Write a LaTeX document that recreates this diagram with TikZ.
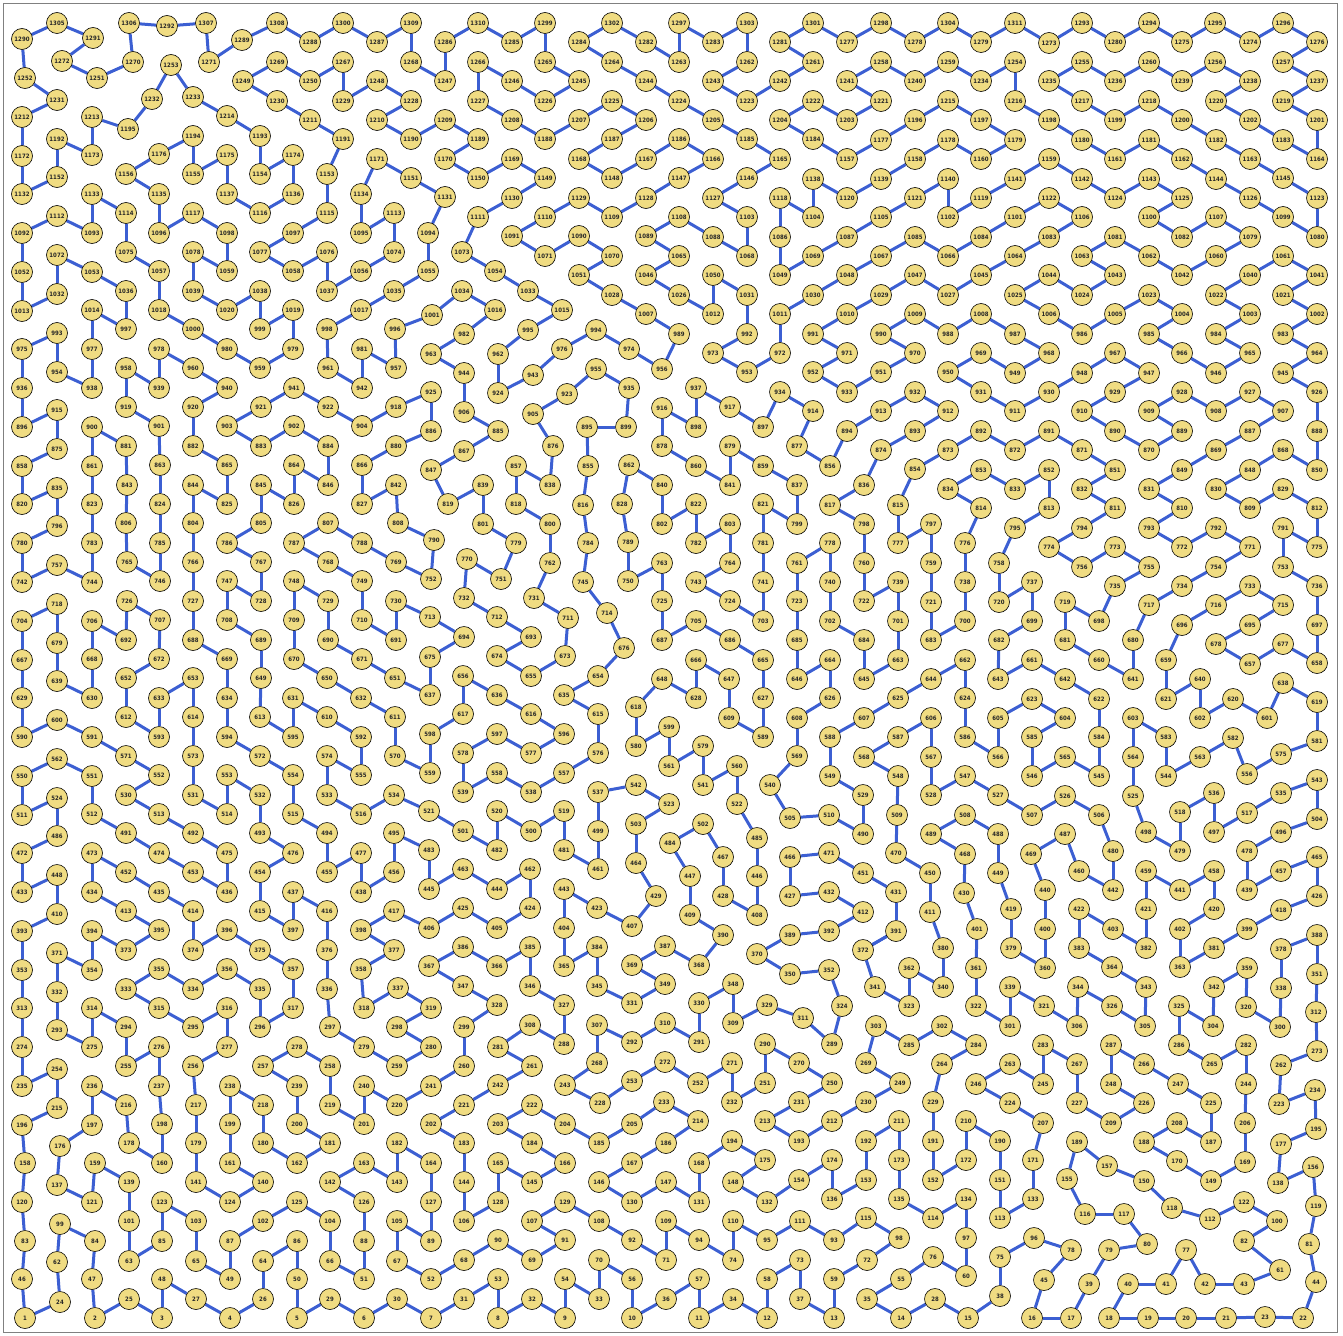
\documentclass[tikz,border=0pt]{standalone}
\usepackage{fontspec}
\newfontfamily\labfont{DejaVu Sans}[FakeStretch=0.9]
\usetikzlibrary{backgrounds}
\definecolor{vfill}{RGB}{240,220,130}
\definecolor{ecol}{RGB}{60,95,210}
\tikzset{vtx/.style={circle,draw=black,line width=0.6pt,fill=vfill,minimum size=21pt,inner sep=0pt,font=\labfont\bfseries\fontsize{6}{6}\selectfont,text=black!85},
edgeline/.style={ecol,line width=3pt}}
\begin{document}
\begin{tikzpicture}[x=1pt,y=-1pt]
\useasboundingbox (0,0) rectangle (1343,1335);
\draw[gray,line width=1pt] (3,4) rectangle (1337,1332);
\foreach \n/\x/\y in {1/25/1318,2/95/1318,3/162/1318,4/230/1318,5/297/1318,6/364/1318,7/431/1318,8/498/1318,9/565/1318,10/632/1318,
11/699/1318,12/767/1318,13/834/1318,14/901/1318,15/968/1318,16/1032/1318,17/1071/1318,18/1109/1318,19/1148/1318,20/1186/1318,
21/1226/1318,22/1303/1318,23/1265/1317,24/60/1302,25/129/1299,26/263/1299,27/196/1299,28/935/1299,29/330/1299,30/397/1299,
31/464/1299,32/532/1299,33/599/1299,34/733/1299,35/867/1299,36/666/1299,37/800/1299,38/1000/1296,39/1089/1284,40/1128/1284,
41/1166/1284,42/1205/1284,43/1244/1284,44/1316/1282,45/1044/1280,46/22/1279,47/92/1279,48/162/1279,49/230/1279,50/297/1279,
51/364/1279,52/431/1279,53/498/1279,54/565/1279,55/901/1279,56/632/1279,57/699/1279,58/767/1279,59/834/1279,60/966/1276,
61/1280/1270,62/57/1262,63/129/1261,64/263/1261,65/196/1261,66/330/1261,67/397/1261,68/464/1260,69/532/1260,70/599/1260,
71/666/1260,72/867/1260,73/800/1260,74/733/1260,75/1000/1257,76/933/1257,77/1186/1250,78/1071/1250,79/1109/1250,80/1147/1244,
81/1309/1244,82/1244/1241,83/25/1241,84/95/1241,85/162/1241,86/297/1241,87/230/1241,88/364/1241,89/431/1241,90/498/1240,
91/565/1240,92/632/1240,93/834/1240,94/699/1240,95/767/1240,96/1034/1238,97/966/1238,98/899/1238,99/60/1224,100/1277/1221,
101/129/1221,102/263/1221,103/196/1221,104/330/1221,105/397/1221,106/464/1221,107/532/1221,108/599/1221,109/666/1221,110/733/1221,
111/800/1221,112/1210/1219,113/1000/1218,114/933/1218,115/866/1218,116/1085/1214,117/1124/1214,118/1172/1208,119/1316/1206,120/22/1202,
121/92/1202,122/1244/1202,123/162/1202,124/230/1202,125/297/1202,126/364/1202,127/431/1202,128/498/1202,129/565/1202,130/632/1202,
131/699/1202,132/767/1202,133/1033/1199,134/966/1199,135/899/1199,136/832/1199,137/57/1185,138/1278/1183,139/129/1182,140/263/1182,
141/196/1182,142/330/1182,143/397/1182,144/464/1182,145/532/1182,146/599/1182,147/666/1182,148/733/1182,149/1211/1181,150/1144/1181,
151/1000/1180,152/933/1180,153/866/1180,154/799/1180,155/1067/1179,156/1313/1167,157/1107/1166,158/25/1163,159/95/1163,160/162/1163,
161/230/1163,162/297/1163,163/364/1163,164/431/1163,165/498/1163,166/565/1163,167/632/1163,168/699/1163,169/1245/1162,170/1177/1161,
171/1033/1160,172/966/1160,173/899/1160,174/832/1160,175/765/1160,176/60/1146,177/1281/1144,178/129/1143,179/196/1143,180/263/1143,
181/330/1143,182/397/1143,183/464/1143,184/532/1143,185/599/1143,186/666/1143,187/1211/1142,188/1144/1142,189/1077/1142,190/1000/1141,
191/933/1141,192/866/1141,193/799/1141,194/732/1141,195/1316/1129,196/22/1125,197/92/1125,198/162/1124,199/230/1124,200/297/1124,
201/364/1124,202/431/1124,203/498/1124,204/565/1124,205/632/1124,206/1245/1123,207/1043/1123,208/1177/1123,209/1111/1123,210/966/1121,
211/899/1121,212/832/1121,213/765/1121,214/698/1121,215/57/1108,216/126/1105,217/196/1105,218/263/1105,219/330/1105,220/397/1105,
221/464/1105,222/532/1105,223/1279/1104,224/1010/1103,225/1211/1103,226/1144/1103,227/1077/1103,228/600/1103,229/933/1102,230/866/1102,
231/799/1102,232/732/1102,233/664/1102,234/1315/1090,235/22/1086,236/92/1086,237/159/1086,238/230/1086,239/297/1086,240/364/1086,
241/431/1086,242/498/1085,243/565/1085,244/1246/1084,245/1043/1084,246/976/1084,247/1178/1084,248/1111/1084,249/900/1083,250/832/1083,
251/765/1083,252/698/1083,253/632/1081,254/57/1069,255/126/1066,256/193/1066,257/263/1066,258/330/1066,259/397/1066,260/464/1066,
261/532/1066,262/1281/1065,263/1010/1064,264/942/1064,265/1212/1064,266/1144/1064,267/1077/1064,268/597/1063,269/866/1063,270/799/1063,
271/732/1063,272/665/1062,273/1317/1051,274/22/1047,275/92/1047,276/159/1047,277/227/1047,278/297/1047,279/364/1047,280/431/1047,
281/498/1047,282/1246/1045,283/1043/1045,284/976/1045,285/909/1045,286/1179/1045,287/1111/1045,288/564/1044,289/832/1044,290/765/1044,
291/699/1042,292/632/1042,293/57/1030,294/126/1027,295/193/1027,296/260/1027,297/330/1027,298/397/1027,299/464/1027,300/1280/1027,
301/1010/1026,302/942/1026,303/876/1026,304/1213/1026,305/1145/1026,306/1077/1026,307/597/1025,308/530/1025,309/733/1023,310/665/1023,
311/803/1018,312/1316/1012,313/22/1008,314/92/1008,315/159/1008,316/227/1008,317/293/1008,318/364/1008,319/431/1008,320/1246/1007,
321/1044/1006,322/976/1006,323/909/1006,324/842/1006,325/1179/1006,326/1112/1006,327/564/1005,328/497/1005,329/767/1005,330/699/1003,
331/632/1003,332/57/992,333/126/989,334/193/989,335/260/989,336/327/989,337/398/988,338/1281/988,339/1010/987,340/943/987,
341/875/987,342/1214/987,343/1146/987,344/1078/987,345/597/986,346/530/986,347/463/986,348/733/984,349/665/984,350/790/974,
351/1317/974,352/829/970,353/22/970,354/92/970,355/159/969,356/227/969,357/293/969,358/361/969,359/1247/968,360/1045/968,
361/976/968,362/909/968,363/1180/967,364/1112/967,365/564/966,366/497/966,367/429/966,368/699/965,369/632/965,370/757/954,
371/57/953,372/863/950,373/126/950,374/193/950,375/260/950,376/327/950,377/394/950,378/1281/949,379/1011/948,380/943/948,
381/1214/948,382/1146/948,383/1079/948,384/597/947,385/530/947,386/463/947,387/665/946,388/1317/935,389/790/935,390/723/935,
391/896/931,392/829/931,393/22/931,394/92/931,395/159/930,396/227/930,397/293/930,398/361/930,399/1247/929,400/1045/929,
401/977/929,402/1180/929,403/1113/929,404/564/928,405/497/928,406/429/928,407/632/926,408/757/915,409/690/915,410/57/914,
411/930/912,412/863/912,413/126/911,414/193/911,415/260/911,416/327/911,417/394/911,418/1281/910,419/1011/909,420/1214/909,
421/1146/909,422/1079/909,423/597/908,424/530/908,425/463/908,426/1317/896,427/790/896,428/723/896,429/656/896,430/964/893,
431/896/892,432/829/892,433/22/892,434/92/892,435/159/892,436/227/892,437/293/892,438/361/892,439/1247/890,440/1045/890,
441/1180/890,442/1113/890,443/564/889,444/497/889,445/429/889,446/757/876,447/690/876,448/57/875,449/998/873,450/930/873,
451/863/873,452/126/872,453/193/872,454/260/872,455/327/872,456/394/872,457/1281/871,458/1214/871,459/1146/871,460/1079/871,
461/598/869,462/530/869,463/463/869,464/636/863,465/1317/857,466/790/857,467/723/857,468/965/854,469/1031/854,470/896/853,
471/829/853,472/22/853,473/92/853,474/159/853,475/227/853,476/293/853,477/361/853,478/1247/851,479/1180/851,480/1113/851,
481/564/850,482/497/850,483/429/850,484/670/843,485/757/838,486/57/836,487/1065/834,488/998/834,489/931/834,490/863/834,
491/126/833,492/193/833,493/260/833,494/327/833,495/394/833,496/1281/832,497/1214/832,498/1146/832,499/598/831,500/531/831,
501/463/831,502/703/824,503/636/824,504/1317/819,505/790/818,506/1099/815,507/1032/815,508/965/815,509/897/815,510/829/815,
511/22/815,512/92/814,513/159/814,514/227/814,515/293/814,516/361/814,517/1247/813,518/1180/812,519/564/811,520/497/811,
521/429/811,522/737/804,523/669/804,524/57/798,525/1133/796,526/1065/796,527/998/795,528/931/795,529/863/795,530/126/795,
531/193/795,532/260/795,533/327/795,534/394/795,535/1281/793,536/1214/793,537/598/792,538/531/792,539/463/792,540/770/785,
541/703/785,542/636/785,543/1317/780,544/1166/776,545/1099/776,546/1032/776,547/965/776,548/898/776,549/830/776,550/22/776,
551/92/776,552/159/775,553/227/775,554/293/775,555/361/775,556/1247/774,557/564/773,558/497/773,559/430/773,560/737/766,
561/669/766,562/57/759,563/1200/757,564/1133/757,565/1065/757,566/998/757,567/931/757,568/864/757,569/797/756,570/395/756,
571/126/756,572/260/756,573/193/756,574/327/756,575/1281/754,576/598/753,577/531/753,578/463/753,579/703/746,580/636/746,
581/1317/741,582/1233/738,583/1166/737,584/1099/737,585/1032/737,586/965/737,587/898/737,588/830/737,589/763/737,590/22/737,
591/92/737,592/361/737,593/159/737,594/227/737,595/293/737,596/564/734,597/497/734,598/430/734,599/669/727,600/57/720,
601/1267/718,602/1200/718,603/1133/718,604/1065/718,605/998/718,606/931/718,607/864/718,608/797/718,609/729/718,610/327/717,
611/395/717,612/126/717,613/260/717,614/193/717,615/598/714,616/531/714,617/463/714,618/636/707,619/1317/702,620/1233/699,
621/1166/699,622/1099/699,623/1032/699,624/965/698,625/898/698,626/830/698,627/763/698,628/696/698,629/22/698,630/92/698,
631/293/698,632/361/698,633/159/698,634/227/698,635/564/695,636/497/695,637/430/695,638/1283/683,639/57/681,640/1200/679,
641/1133/679,642/1065/679,643/998/679,644/931/679,645/864/679,646/797/679,647/729/679,648/662/679,649/261/678,650/327/678,
651/395/678,652/126/678,653/193/678,654/598/676,655/531/676,656/463/676,657/1250/664,658/1317/663,659/1166/660,660/1099/660,
661/1032/660,662/965/660,663/898/660,664/830/660,665/763/660,666/696/660,667/22/660,668/92/659,669/227/659,670/294/659,
671/362/659,672/159/659,673/565/656,674/497/656,675/430/657,676/624/648,677/1283/644,678/1216/644,679/57/643,680/1133/640,
681/1065/640,682/999/640,683/931/640,684/864/640,685/797/640,686/730/640,687/662/640,688/193/640,689/261/640,690/328/640,
691/396/640,692/126/640,693/531/637,694/464/637,695/1250/625,696/1182/625,697/1317/625,698/1099/621,699/1032/621,700/965/621,
701/898/621,702/830/621,703/763/621,704/22/621,705/696/621,706/92/621,707/160/620,708/227/620,709/294/620,710/362/620,
711/568/618,712/497/617,713/430/617,714/607/613,715/1283/605,716/1216/605,717/1149/605,718/57/604,719/1065/602,720/999/602,
721/931/602,722/864/601,723/797/601,724/730/601,725/662/601,726/127/601,727/193/601,728/261/601,729/328/601,730/396/601,
731/534/598,732/464/598,733/1250/586,734/1182/586,735/1115/586,736/1317/586,737/1032/582,738/965/582,739/898/582,740/830/582,
741/763/582,742/22/582,743/696/582,744/92/582,745/583/582,746/160/581,747/227/581,748/294/581,749/362/581,750/628/581,
751/501/579,752/431/579,753/1283/567,754/1216/567,755/1149/567,756/1082/567,757/57/565,758/999/563,759/931/563,760/864/563,
761/797/563,762/550/563,763/662/563,764/730/563,765/127/562,766/193/562,767/261/562,768/328/562,769/396/562,770/467/559,
771/1250/547,772/1182/547,773/1115/547,774/1049/547,775/1317/547,776/965/543,777/898/543,778/830/543,779/516/543,780/22/543,
781/763/543,782/696/543,783/92/543,784/588/543,785/160/543,786/227/543,787/294/543,788/362/543,789/628/542,790/434/540,
791/1283/528,792/1216/528,793/1149/528,794/1082/528,795/1015/528,796/57/526,797/931/524,798/864/524,799/797/524,800/550/524,
801/483/524,802/662/524,803/730/524,804/193/523,805/261/523,806/126/523,807/328/523,808/398/523,809/1250/508,810/1182/508,
811/1115/508,812/1317/508,813/1049/508,814/981/508,815/898/505,816/583/505,817/830/505,818/516/504,819/448/504,820/22/504,
821/763/504,822/696/504,823/92/504,824/160/504,825/227/504,826/294/504,827/362/504,828/622/504,829/1283/489,830/1216/489,
831/1149/489,832/1082/489,833/1015/489,834/948/489,835/57/488,836/864/485,837/797/485,838/550/485,839/483/485,840/662/485,
841/730/485,842/396/485,843/127/485,844/193/485,845/261/485,846/328/485,847/431/470,848/1250/470,849/1182/470,850/1317/470,
851/1115/470,852/1049/470,853/981/470,854/915/469,855/588/466,856/830/466,857/516/466,858/22/466,859/763/466,860/696/466,
861/92/466,862/629/465,863/160/465,864/294/465,865/227/465,866/362/465,867/464/451,868/1283/450,869/1216/450,870/1149/450,
871/1082/450,872/1015/450,873/948/450,874/881/450,875/57/449,876/553/446,877/797/446,878/662/446,879/730/446,880/396/446,
881/126/446,882/193/446,883/261/446,884/328/446,885/498/431,886/431/431,887/1250/431,888/1317/431,889/1182/431,890/1115/431,
891/1049/431,892/981/431,893/915/431,894/847/431,895/587/427,896/22/427,897/763/427,898/696/427,899/626/427,900/92/427,
901/159/426,902/294/426,903/227/426,904/362/426,905/533/414,906/464/412,907/1283/411,908/1216/411,909/1149/411,910/1082/411,
911/1015/411,912/948/411,913/881/411,914/813/411,915/57/410,916/662/408,917/730/407,918/396/407,919/126/407,920/193/407,
921/261/407,922/328/407,923/567/394,924/498/393,925/431/392,926/1317/392,927/1250/392,928/1182/392,929/1115/392,930/1049/392,
931/981/392,932/915/392,933/847/392,934/780/392,935/629/388,936/22/388,937/696/388,938/92/388,939/159/388,940/227/388,
941/294/388,942/362/388,943/533/375,944/464/373,945/1283/373,946/1216/373,947/1149/373,948/1082/373,949/1015/373,950/948/372,
951/881/372,952/813/372,953/747/372,954/57/372,955/596/369,956/662/369,957/396/368,958/126/368,959/260/368,960/193/368,
961/328/368,962/498/354,963/431/354,964/1317/353,965/1250/353,966/1182/353,967/1115/353,968/1049/353,969/981/353,970/915/353,
971/847/353,972/780/353,973/713/353,974/629/349,975/22/349,976/562/349,977/92/349,978/159/349,979/293/349,980/227/349,
981/362/349,982/464/334,983/1283/334,984/1216/334,985/1149/334,986/1082/334,987/1015/334,988/948/334,989/679/334,990/881/334,
991/813/334,992/747/334,993/57/333,994/596/330,995/528/330,996/395/329,997/126/329,998/327/329,999/260/329,1000/193/329,
1001/432/315,1002/1317/314,1003/1250/314,1004/1182/314,1005/1115/314,1006/1049/314,1007/646/314,1008/981/314,1009/915/314,1010/847/314,
1011/780/314,1012/713/314,1013/22/311,1014/92/310,1015/562/310,1016/495/310,1017/361/310,1018/159/310,1019/293/310,1020/227/310,
1021/1283/295,1022/1216/295,1023/1149/295,1024/1082/295,1025/1015/295,1026/679/295,1027/948/295,1028/612/295,1029/881/295,1030/813/295,
1031/747/295,1032/57/294,1033/528/291,1034/462/291,1035/394/291,1036/126/291,1037/327/291,1038/260/291,1039/193/291,1040/1250/275,
1041/1317/275,1042/1182/275,1043/1115/275,1044/1049/275,1045/981/275,1046/646/275,1047/915/275,1048/847/275,1049/780/275,1050/713/275,
1051/579/275,1052/22/272,1053/92/272,1054/495/271,1055/428/271,1056/361/271,1057/159/271,1058/293/271,1059/227/271,1060/1216/256,
1061/1283/256,1062/1149/256,1063/1082/256,1064/1015/256,1065/679/256,1066/948/256,1067/881/256,1068/747/256,1069/813/256,1070/612/256,
1071/545/256,1072/57/255,1073/462/252,1074/394/252,1075/126/252,1076/327/252,1077/260/252,1078/193/252,1079/1250/237,1080/1317/237,
1081/1115/237,1082/1182/237,1083/1049/237,1084/981/237,1085/915/237,1086/780/237,1087/847/237,1088/713/237,1089/646/236,1090/579/236,
1091/512/236,1092/22/233,1093/92/233,1094/428/233,1095/361/233,1096/159/233,1097/293/233,1098/227/233,1099/1283/217,1100/1149/217,
1101/1015/217,1102/948/217,1103/747/217,1104/813/217,1105/881/217,1106/1082/217,1107/1216/217,1108/679/217,1109/612/217,1110/545/217,
1111/478/217,1112/57/216,1113/394/213,1114/126/213,1115/327/213,1116/260/213,1117/193/213,1118/780/198,1119/981/198,1120/847/198,
1121/915/198,1122/1049/198,1123/1317/198,1124/1115/198,1125/1182/198,1126/1250/198,1127/713/198,1128/646/198,1129/579/198,1130/512/198,
1131/445/197,1132/22/194,1133/92/194,1134/361/194,1135/159/194,1136/293/194,1137/227/194,1138/813/179,1139/881/179,1140/948/179,
1141/1015/179,1142/1082/179,1143/1149/179,1144/1216/179,1145/1283/178,1146/747/178,1147/679/178,1148/612/178,1149/545/178,1150/478/178,
1151/411/178,1152/57/177,1153/327/174,1154/260/174,1155/193/174,1156/126/174,1157/847/159,1158/915/159,1159/1049/159,1160/981/159,
1161/1115/159,1162/1182/159,1163/1250/159,1164/1317/159,1165/780/159,1166/713/159,1167/646/159,1168/579/159,1169/512/159,1170/445/159,
1171/377/159,1172/22/156,1173/92/155,1174/293/155,1175/227/155,1176/159/154,1177/881/140,1178/948/140,1179/1015/140,1180/1082/140,
1181/1149/140,1182/1216/140,1183/1283/140,1184/813/139,1185/747/139,1186/679/139,1187/612/139,1188/545/139,1189/478/139,1190/411/139,
1191/343/139,1192/57/139,1193/260/136,1194/193/136,1195/128/129,1196/915/120,1197/981/120,1198/1049/120,1199/1115/120,1200/1182/120,
1201/1317/120,1202/1250/120,1203/847/120,1204/780/120,1205/713/120,1206/646/120,1207/579/120,1208/512/120,1209/445/120,1210/377/120,
1211/310/120,1212/22/117,1213/92/117,1214/227/116,1215/948/101,1216/1015/101,1217/1082/101,1218/1149/101,1219/1283/101,1220/1216/101,
1221/881/101,1222/813/101,1223/747/101,1224/679/101,1225/612/101,1226/545/101,1227/478/101,1228/411/101,1229/343/101,1230/277/101,
1231/57/100,1232/152/99,1233/193/97,1234/981/81,1235/1049/81,1236/1115/81,1237/1317/81,1238/1250/81,1239/1182/81,1240/915/81,
1241/847/81,1242/780/81,1243/713/81,1244/646/81,1245/579/81,1246/512/81,1247/445/81,1248/377/81,1249/243/81,1250/310/81,
1251/97/78,1252/25/78,1253/171/65,1254/1015/62,1255/1082/62,1256/1215/62,1257/1283/62,1258/881/62,1259/948/62,1260/1149/62,
1261/813/62,1262/747/62,1263/679/62,1264/612/62,1265/545/62,1266/478/62,1267/343/62,1268/411/62,1269/277/62,1270/133/62,
1271/209/62,1272/62/61,1273/1049/43,1274/1250/42,1275/1182/42,1276/1317/42,1277/847/42,1278/915/42,1279/981/42,1280/1115/42,
1281/780/42,1282/646/42,1283/713/42,1284/579/42,1285/512/42,1286/445/42,1287/377/42,1288/310/42,1289/242/40,1290/22/39,
1291/93/38,1292/167/26,1293/1082/23,1294/1149/23,1295/1215/23,1296/1283/23,1297/679/23,1298/881/23,1299/545/23,1300/343/23,
1301/813/23,1302/612/23,1303/747/23,1304/948/23,1305/57/23,1306/129/23,1307/206/23,1308/277/23,1309/411/23,1310/478/23,
1311/1015/23}
  \node[vtx] (n\n) at (\x,\y) {\n};
\begin{pgfonlayer}{background}
\foreach \a/\b in {1290/1305,1305/1291,1291/1272,1272/1251,1251/1270,1270/1306,1306/1292,1292/1307,1307/1271,1271/1289,1289/1308,1308/1288,1288/1300,1300/1287,1287/1309,1309/1268,1268/1247,1247/1286,
1290/1252,1252/1231,1231/1212,1212/1172,1172/1132,1132/1152,1152/1192,1192/1173,1173/1213,1213/1195,1195/1232,1232/1253,1253/1233,1233/1214,1214/1193,1193/1154,1154/1174,1174/1136,1136/1116,1116/1137,1137/1175,1175/1155,1155/1194,1194/1176,1176/1156,1156/1135,1135/1096,1096/1117,1117/1098,1098/1059,1059/1078,1078/1039,1039/1020,1020/1038,1038/999,999/1019,1019/979,
1249/1269,1269/1250,1250/1267,1267/1229,1229/1248,1248/1228,1228/1210,1210/1190,1190/1209,1209/1189,
1249/1230,1230/1211,1211/1191,1191/1153,1153/1115,1115/1097,1097/1077,1077/1058,1058/1076,1076/1037,1037/1056,1056/1074,1074/1113,1113/1095,1095/1134,1134/1171,1171/1151,1151/1131,1131/1094,1094/1055,1055/1035,1035/1017,1017/998,998/961,
1112/1092,1112/1093,1093/1133,1133/1114,1114/1075,1075/1057,1057/1018,1018/1000,1000/980,
1092/1052,1052/1013,1013/1032,1032/1072,1072/1053,1053/1036,1036/997,997/1014,1014/977,
993/975,993/954,1001/996,1001/1034,
1286/1310,1310/1285,1285/1299,1299/1265,1265/1245,1245/1226,1226/1246,1246/1266,1266/1227,1227/1208,1208/1188,1188/1207,1207/1225,1225/1206,1206/1187,1187/1168,1168/1148,1148/1167,1167/1186,1186/1166,1166/1147,1147/1128,1128/1109,1109/1129,1129/1110,1110/1091,1091/1071,1071/1090,1090/1070,1070/1051,1051/1028,1028/1007,1007/989,989/956,
1302/1284,1284/1264,1264/1244,1244/1224,1224/1205,1205/1185,1185/1165,1165/1146,1146/1127,1127/1103,1103/1068,1068/1088,1088/1108,1108/1089,1089/1065,1065/1046,1046/1026,1026/1012,1012/1050,1050/1031,1031/992,
1302/1282,1282/1263,1263/1297,1297/1283,1283/1303,1303/1262,1262/1243,1243/1223,1223/1242,1242/1261,1261/1281,1281/1301,1301/1277,1277/1298,1298/1278,
1258/1241,1241/1221,1221/1203,1203/1222,1222/1204,1204/1184,1184/1157,1157/1177,1177/1196,1258/1240,
1138/1120,1138/1104,1104/1118,1118/1086,1086/1049,1049/1069,1069/1087,1087/1105,1105/1121,1120/1139,1139/1158,
1067/1085,1067/1048,1048/1030,1030/1011,1011/972,
1029/1010,1010/991,1029/1047,990/1009,990/970,
1189/1170,1170/1150,1150/1169,1169/1149,1149/1130,1130/1111,1111/1073,1073/1054,1054/1033,1033/1015,1015/995,995/962,
1034/1016,1016/982,994/976,994/974,
1278/1304,1304/1279,1279/1311,1311/1273,1273/1293,1293/1280,1280/1294,1294/1275,1275/1295,1295/1274,1274/1296,1296/1276,1276/1257,1257/1237,1237/1219,1219/1201,1201/1164,1164/1183,1183/1202,1202/1220,1220/1238,1238/1256,1256/1239,1239/1260,1260/1236,1236/1255,1255/1235,1235/1217,1217/1199,1199/1218,1218/1200,1200/1182,1182/1163,1163/1145,1145/1123,1123/1080,1080/1099,1099/1126,1126/1144,1144/1162,1162/1181,1181/1161,1161/1180,1180/1198,1198/1216,1216/1254,1254/1234,1234/1259,1259/1240,
1215/1196,1215/1197,1197/1179,1179/1160,1160/1178,1178/1158,
1140/1121,1140/1102,1102/1119,1119/1141,1141/1159,1159/1142,1142/1124,1124/1143,1143/1125,1125/1100,1100/1082,1082/1107,1107/1079,1079/1060,1060/1042,1042/1062,1062/1081,1081/1063,1063/1043,1043/1024,1024/1044,1044/1025,1025/1006,1006/986,986/1005,1005/1023,1023/1004,1004/985,985/966,
1122/1101,1101/1084,1084/1066,1066/1085,1122/1106,1106/1083,1083/1064,1064/1045,1045/1027,1027/1047,
1061/1040,1040/1022,1022/1003,1003/984,1061/1041,1041/1021,1021/1002,1002/983,
1009/988,988/1008,1008/987,
975/936,936/896,896/915,915/875,875/858,858/820,820/835,835/796,796/780,780/742,742/757,757/744,744/783,783/823,823/861,861/900,900/881,881/843,843/806,806/765,765/746,746/785,785/824,824/863,863/901,901/919,919/958,958/939,939/978,978/960,960/940,940/920,920/882,882/865,865/825,825/844,844/804,804/766,766/727,727/688,688/669,669/634,
954/938,938/977,718/704,718/679,679/639,704/667,667/629,980/959,959/979,
903/921,921/941,941/922,922/904,904/918,918/925,925/886,886/880,880/866,866/827,827/842,842/808,808/790,790/752,752/769,769/788,788/807,807/787,787/768,768/749,749/710,710/691,691/730,730/713,713/694,
903/883,883/902,902/884,884/846,846/864,864/826,826/845,845/805,805/786,786/767,767/728,728/747,747/708,708/689,689/649,
748/729,729/690,690/671,671/651,748/709,709/670,670/650,
961/942,942/981,981/957,957/996,
726/707,707/672,672/652,726/692,692/706,706/668,668/630,
963/982,963/944,847/867,847/819,
944/906,906/885,885/867,962/924,924/943,943/976,974/956,
992/973,973/953,953/972,972/1011,991/971,971/952,952/933,933/951,951/970,
955/923,923/905,905/876,876/838,838/857,857/818,818/800,800/762,762/731,731/711,711/673,673/655,
955/935,935/899,899/895,895/855,855/816,816/784,784/745,745/714,714/676,676/654,
916/898,898/937,937/917,917/897,897/934,934/914,914/877,877/856,856/894,894/913,913/932,
916/878,878/860,860/841,841/879,879/859,859/837,837/799,799/821,821/781,781/741,741/703,703/724,724/743,743/764,764/803,803/782,782/822,822/802,802/840,840/862,862/828,828/789,789/750,750/763,763/725,725/687,687/705,705/686,686/665,665/627,
874/836,836/817,817/798,798/760,760/722,722/739,874/893,
839/819,839/801,801/779,779/751,751/770,770/732,732/712,712/693,693/674,674/655,694/675,
761/778,778/740,740/702,702/684,684/645,761/723,723/685,685/646,664/646,
969/950,969/949,949/968,968/987,950/931,931/911,911/930,930/948,948/967,967/947,947/929,929/910,910/890,890/870,870/889,889/909,909/928,928/908,908/927,927/907,907/887,887/869,869/849,849/831,831/810,810/793,793/772,772/792,792/771,771/754,754/734,734/717,717/680,680/641,
966/946,946/965,965/984,983/964,964/945,945/926,926/888,888/850,850/868,868/848,848/830,830/809,809/829,829/812,812/775,775/791,791/753,753/736,736/697,697/658,658/677,677/657,657/678,678/695,695/715,715/733,733/716,716/696,696/659,659/621,
932/912,912/893,892/873,873/854,854/815,815/777,777/797,797/759,759/721,721/683,683/700,700/738,738/776,776/814,814/834,834/853,853/833,833/852,852/813,813/795,795/758,758/720,720/737,737/699,699/682,682/643,
892/872,872/891,891/871,871/851,851/832,832/811,811/794,794/774,774/756,756/773,773/755,755/735,735/698,698/719,719/681,681/660,660/641,
739/701,701/663,662/644,662/624,
629/590,590/600,600/591,591/571,571/552,552/530,530/513,513/492,492/475,475/436,436/453,453/474,474/491,491/512,512/551,551/562,562/550,550/511,511/524,524/486,486/472,472/433,433/448,448/410,410/393,393/353,353/313,
639/630,452/473,473/434,434/413,413/395,395/373,373/394,394/354,354/371,371/332,332/293,
435/452,435/414,414/374,374/396,396/375,375/357,357/317,
652/612,612/593,593/633,633/653,653/614,614/573,573/531,531/514,514/553,553/532,532/493,493/476,476/454,454/415,415/397,397/437,437/416,416/376,376/336,336/297,
634/594,594/572,572/554,554/515,515/494,494/455,455/477,477/438,438/456,456/495,495/483,483/445,445/463,
649/613,613/595,595/631,631/610,610/592,592/555,555/574,574/533,533/516,516/534,534/521,521/501,
650/632,632/611,611/570,570/559,559/598,598/617,651/637,637/675,
356/334,334/355,355/333,333/315,356/335,335/296,
398/417,417/406,406/425,398/377,377/358,358/318,367/386,367/347,337/319,337/318,
656/636,636/616,616/596,596/577,577/597,597/578,578/539,539/558,558/538,538/557,557/576,576/615,615/635,635/654,656/617,
501/482,482/520,520/500,500/519,519/481,481/461,461/499,499/537,537/542,542/523,523/503,503/464,464/429,429/407,407/423,423/443,443/404,404/365,365/384,384/345,345/331,331/349,349/369,369/387,387/368,368/390,390/409,409/447,447/484,484/502,502/467,467/428,428/408,408/446,446/485,485/522,522/560,560/541,541/579,579/561,561/599,599/580,580/618,618/648,648/628,628/666,666/647,647/609,609/589,589/627,
463/444,444/462,462/424,424/405,405/425,386/366,366/385,385/346,346/327,347/328,
664/626,626/608,608/569,569/540,540/505,505/510,510/490,490/529,529/549,549/588,588/607,607/625,645/663,568/587,568/548,
466/471,471/451,451/431,466/427,427/432,432/412,412/392,392/389,389/370,370/350,350/352,352/324,372/391,372/341,348/309,348/330,
625/644,624/586,586/566,566/605,605/623,623/604,604/585,585/546,546/565,565/545,545/584,584/622,622/642,642/661,661/643,
621/640,640/602,602/620,620/601,601/638,638/619,619/581,581/575,575/556,556/582,582/563,563/544,544/583,583/603,603/564,564/525,525/498,498/479,479/518,518/536,536/497,497/517,517/535,535/543,543/504,504/496,496/478,478/439,439/457,457/465,465/426,426/418,418/399,399/381,381/363,363/402,402/420,420/458,458/441,441/459,459/421,421/382,382/403,403/422,422/383,383/364,364/343,343/305,
606/587,606/567,567/528,528/547,547/527,527/507,507/526,526/506,506/480,480/442,442/460,460/487,487/469,469/440,440/400,400/360,360/379,379/419,419/449,449/488,488/508,508/489,489/468,468/430,430/401,401/361,361/322,
548/509,509/470,470/450,450/411,411/380,380/340,340/362,362/323,431/391,391/372,
388/378,378/338,388/351,351/312,359/342,359/320,342/304,344/326,344/306,339/321,339/301,
313/274,274/235,235/254,254/215,215/196,196/158,158/120,120/83,83/46,46/1,1/24,24/62,62/99,99/84,84/47,47/2,2/25,25/3,3/48,48/27,27/4,4/26,26/64,64/86,86/50,50/5,5/29,29/6,6/30,30/7,7/31,
293/275,275/314,314/294,294/255,255/276,276/237,237/198,198/160,160/178,178/216,216/236,236/197,197/176,176/137,137/121,121/159,159/139,139/101,101/63,63/85,85/123,123/103,103/65,65/49,49/87,87/102,102/125,125/104,104/66,66/51,51/88,88/126,126/142,142/163,163/143,143/182,182/164,164/127,127/89,89/105,105/67,67/52,52/68,
315/295,295/316,316/277,277/256,256/217,217/179,179/141,141/124,124/140,140/161,161/199,199/238,238/218,218/180,180/162,162/181,181/200,200/239,239/257,257/278,278/258,258/219,219/201,201/240,240/220,220/241,241/260,
296/317,297/279,279/259,259/280,280/298,298/319,202/221,202/183,
328/299,299/260,327/288,288/308,308/281,281/261,261/242,242/221,330/291,
307/268,307/292,292/310,310/291,268/243,243/228,228/253,253/272,272/252,252/271,271/232,232/251,251/290,290/270,270/250,250/231,231/213,213/193,193/212,212/230,230/249,269/303,269/249,303/285,
329/309,329/311,311/289,289/324,
222/203,222/204,204/185,185/205,205/233,233/214,214/186,186/167,167/146,146/130,130/147,147/131,131/168,168/194,194/175,175/148,148/132,132/154,154/174,174/136,136/153,153/192,192/211,
203/184,184/166,166/145,145/165,165/128,128/106,106/144,144/183,
129/107,129/108,108/92,92/71,71/109,109/94,94/74,74/110,110/95,95/111,111/93,93/115,115/98,107/91,91/69,69/90,90/68,
53/31,53/8,8/32,32/9,9/54,54/33,33/70,70/56,56/10,10/36,36/57,57/11,11/34,34/12,12/58,58/73,73/37,37/13,13/59,59/72,72/98,35/55,35/14,
323/341,322/361,322/301,321/306,326/305,325/304,325/286,320/300,300/338,
312/273,273/262,262/223,223/234,234/195,195/177,177/138,138/156,156/119,119/81,81/44,44/22,22/23,23/21,21/20,20/19,19/18,18/40,40/41,41/77,77/42,42/43,43/61,61/82,82/100,100/122,122/112,112/118,118/150,150/157,157/189,189/155,155/116,116/117,117/80,80/79,79/39,39/17,17/16,16/45,45/78,78/96,96/75,75/38,38/15,15/28,28/14,
285/302,302/284,284/264,264/229,229/191,191/152,152/172,172/210,210/190,190/151,151/113,113/133,133/171,171/207,207/224,224/246,246/263,263/245,245/283,283/267,267/227,227/209,209/226,226/248,248/287,287/266,266/247,247/225,225/187,187/208,208/188,188/170,170/149,149/169,169/206,206/244,244/282,282/265,265/286,
211/173,173/135,135/114,114/134,134/97,97/60,60/76,76/55}
  \draw[edgeline] (n\a) -- (n\b);
\end{pgfonlayer}
\end{tikzpicture}
\end{document}
